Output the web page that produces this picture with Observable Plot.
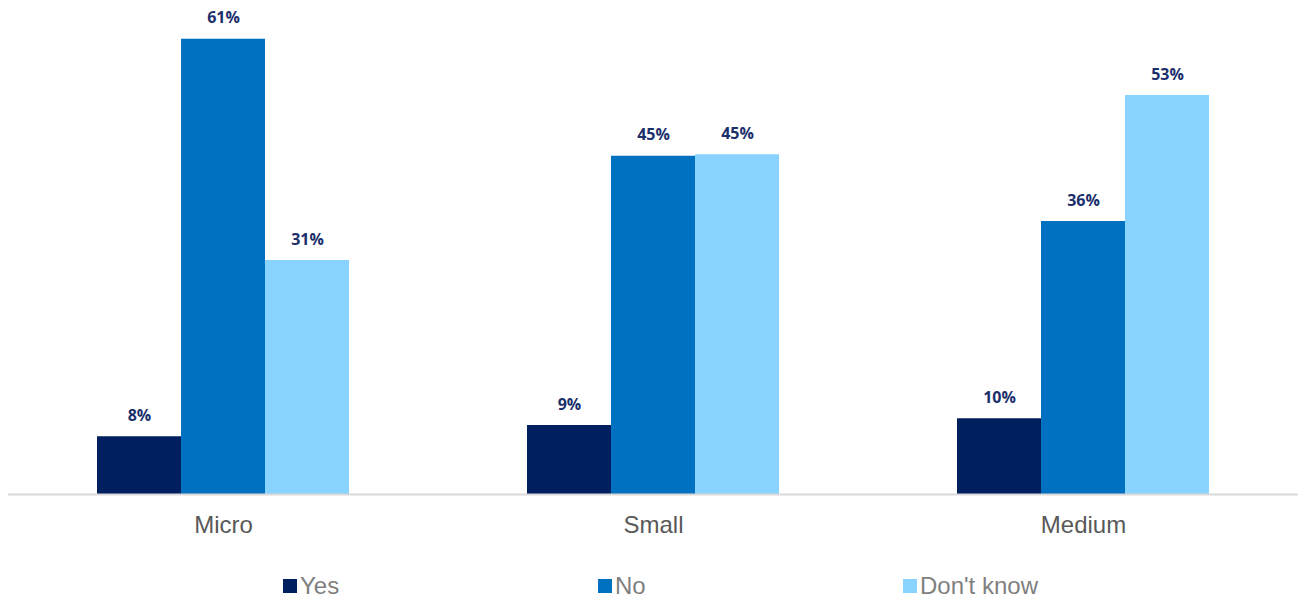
<!DOCTYPE html>
<html>
<head>
<meta charset="utf-8">
<script src="https://cdn.jsdelivr.net/npm/d3@7"></script>
<script src="https://cdn.jsdelivr.net/npm/@observablehq/plot@0.6"></script>
<style>
  body { margin: 0; background: #fff; }
  #chart { width: 1300px; }
  .legend { position: relative; height: 52px; font-family: "Liberation Sans", Arial, sans-serif; font-size: 24px; color: #7f7f7f; }
  .legend .item { position: absolute; top: 22px; display: flex; align-items: center; }
  .legend .sw { width: 14px; height: 14px; margin-right: 3px; }
</style>
</head>
<body>
<div id="chart"></div>
<script>
const categories = ["Micro", "Small", "Medium"];
const seriesNames = ["Yes", "No", "Don't know"];
const yesValues = [7.7, 9.2, 10.1];
const noValues = [60.7, 45.1, 36.4];
const dontKnowValues = [31.2, 45.3, 53.2];
const labelsYes = ["8%", "9%", "10%"];
const labelsNo = ["61%", "45%", "36%"];
const labelsDontKnow = ["31%", "45%", "53%"];
const colors = ["#001F5F", "#0070C0", "#88D3FF"];

const seriesValues = [yesValues, noValues, dontKnowValues];
const seriesLabels = [labelsYes, labelsNo, labelsDontKnow];
const data = [];
categories.forEach((c, i) => {
  seriesNames.forEach((s, j) => {
    data.push({category: c, series: s, value: seriesValues[j][i], label: seriesLabels[j][i]});
  });
});

const plot = Plot.plot({
  width: 1300,
  height: 550,
  marginLeft: 8,
  marginRight: 2,
  marginTop: 6.5,
  marginBottom: 56,
  style: {fontFamily: "'Liberation Sans', Arial, sans-serif", background: "#fff"},
  fx: {domain: categories, padding: 0, label: null},
  x: {domain: seriesNames, paddingInner: 0, paddingOuter: 1.05, axis: null},
  y: {domain: [0, 65], axis: null},
  color: {domain: seriesNames, range: colors},
  marks: [
    Plot.barY(data, {fx: "category", x: "series", y: "value", fill: "series", inset: 0}),
    Plot.text(data, {fx: "category", x: "series", y: "value", text: "label", dy: -21,
      fill: "#1B2F6B", fontWeight: "bold", fontSize: 16, fontFamily: "'Open Sans', 'Liberation Sans', sans-serif"}),
    Plot.ruleY([0], {stroke: "#d9d9d9", strokeWidth: 2}),
    Plot.axisFx({anchor: "bottom", tickSize: 0, tickPadding: 21, fontSize: 24, color: "#595959", label: null})
  ]
});
document.getElementById("chart").appendChild(plot);

const legend = document.createElement("div");
legend.className = "legend";
const lefts = [283, 598, 903];
seriesNames.forEach((s, j) => {
  const item = document.createElement("div");
  item.className = "item";
  item.style.left = lefts[j] + "px";
  const sw = document.createElement("div");
  sw.className = "sw";
  sw.style.background = colors[j];
  const tx = document.createElement("span");
  tx.textContent = s;
  item.appendChild(sw);
  item.appendChild(tx);
  legend.appendChild(item);
});
document.getElementById("chart").appendChild(legend);
</script>
</body>
</html>
